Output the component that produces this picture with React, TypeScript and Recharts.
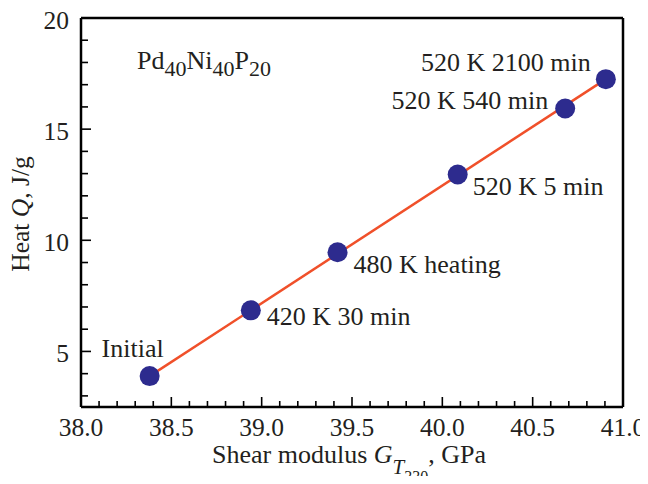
import React from 'react';
import { ScatterChart, Scatter, XAxis, YAxis, ReferenceLine, Customized } from 'recharts';

const conditions = ['Initial', '420 K 30 min', '480 K heating', '520 K 5 min', '520 K 540 min', '520 K 2100 min'];
const shearModulus = [38.38, 38.94, 39.42, 40.085, 40.68, 40.905];
const heat = [3.89, 6.85, 9.46, 12.96, 15.93, 17.25];
const xMajorTicks = [38.0, 38.5, 39.0, 39.5, 40.0, 40.5, 41.0];
const yMajorTicks = [5, 10, 15, 20];

const labelPlacement: Record<string, { anchor: 'start' | 'end'; dx: number; dy: number }> = {
  'Initial': { anchor: 'end', dx: 14, dy: -19 },
  '420 K 30 min': { anchor: 'start', dx: 16, dy: 15 },
  '480 K heating': { anchor: 'start', dx: 16, dy: 21 },
  '520 K 5 min': { anchor: 'start', dx: 15, dy: 21 },
  '520 K 540 min': { anchor: 'end', dx: -17, dy: 1 },
  '520 K 2100 min': { anchor: 'end', dx: -15, dy: -8 },
};

const points = conditions.map((name, i) => ({ name, x: shearModulus[i], y: heat[i] }));
const fitData = [points[0], points[points.length - 1]];

const xTicks = Array.from({ length: 31 }, (_, i) => Math.round((38 + i * 0.1) * 10) / 10);
const yTicks = Array.from({ length: 18 }, (_, i) => 3 + i);

const FONT = "'Liberation Serif', 'Times New Roman', serif";
const TXT = '#231f20';
const tickStyle: React.CSSProperties = { fontFamily: FONT, fontSize: 25.5, fill: TXT };
const labelStyle: React.CSSProperties = { fontFamily: FONT, fontSize: 26, fill: TXT };

const XTick = (props: any) => {
  const { x, y, payload } = props;
  const v = payload.value as number;
  const major = xMajorTicks.some((t) => Math.abs(t - v) < 1e-6);
  return (
    <g>
      <line x1={x} x2={x} y1={y} y2={y - (major ? 10 : 6)} stroke="#000" strokeWidth={1.6} />
      {major && (
        <text x={x} y={y + 29} textAnchor="middle" style={tickStyle}>
          {v.toFixed(1)}
        </text>
      )}
    </g>
  );
};

const YTick = (props: any) => {
  const { x, y, payload } = props;
  const v = payload.value as number;
  const major = yMajorTicks.includes(v);
  return (
    <g>
      <line x1={x} x2={x + (major ? 10 : 7)} y1={y} y2={y} stroke="#000" strokeWidth={1.6} />
      {major && (
        <text x={x - 12} y={y + 11} textAnchor="end" style={tickStyle}>
          {v}
        </text>
      )}
    </g>
  );
};

const PointShape = (props: any) => {
  const { cx, cy, payload } = props;
  const p = labelPlacement[payload.name];
  return (
    <g>
      <circle cx={cx} cy={cy} r={10} fill="#2d2b8e" />
      <text x={cx + p.dx} y={cy + p.dy} textAnchor={p.anchor} style={labelStyle}>
        {payload.name}
      </text>
    </g>
  );
};

const EmptyShape = () => <g />;

const Annotations = () => (
  <g>
    <text x={137} y={69} style={labelStyle}>
      <tspan>Pd</tspan>
      <tspan style={{ fontSize: 22 }} dy={7}>40</tspan>
      <tspan dy={-7}>Ni</tspan>
      <tspan style={{ fontSize: 22 }} dy={7}>40</tspan>
      <tspan dy={-7}>P</tspan>
      <tspan style={{ fontSize: 22 }} dy={7}>20</tspan>
    </text>
    <text x={212} y={463} style={labelStyle}>
      <tspan>Shear modulus </tspan>
      <tspan style={{ fontStyle: 'italic' }}>G</tspan>
      <tspan style={{ fontStyle: 'italic', fontSize: 21 }} dy={11}>T</tspan>
      <tspan style={{ fontSize: 16 }} dy={8}>330</tspan>
      <tspan dy={-19}>, GPa</tspan>
    </text>
    <text transform="translate(29, 214) rotate(-90)" textAnchor="middle" style={tickStyle}>
      <tspan>Heat </tspan>
      <tspan style={{ fontStyle: 'italic' }}>Q</tspan>
      <tspan>, J/g</tspan>
    </text>
  </g>
);

export default function App() {
  return (
    <div style={{ width: 648, height: 484, margin: -8, overflow: 'hidden', fontFamily: FONT }}>
      <ScatterChart width={648} height={484} margin={{ top: 18, right: 25, bottom: 37, left: 21 }}>
        <XAxis
          type="number"
          dataKey="x"
          domain={[38, 41]}
          ticks={xTicks}
          interval={0}
          allowDataOverflow
          height={40}
          tickSize={0}
          tickMargin={0}
          tickLine={false}
          axisLine={{ stroke: '#000', strokeWidth: 2.5 }}
          tick={<XTick />}
        />
        <YAxis
          type="number"
          dataKey="y"
          domain={[2.5, 20]}
          ticks={yTicks}
          interval={0}
          allowDataOverflow
          width={60}
          tickSize={0}
          tickMargin={0}
          tickLine={false}
          axisLine={{ stroke: '#000', strokeWidth: 2.5 }}
          tick={<YTick />}
        />
        <ReferenceLine y={20} stroke="#000" strokeWidth={2.5} />
        <ReferenceLine x={41} stroke="#000" strokeWidth={2.5} />
        <Scatter
          data={fitData}
          line={{ stroke: '#f0502a', strokeWidth: 2.5 }}
          shape={<EmptyShape />}
          isAnimationActive={false}
        />
        <Scatter data={points} shape={<PointShape />} isAnimationActive={false} />
        <Customized component={Annotations} />
      </ScatterChart>
    </div>
  );
}
